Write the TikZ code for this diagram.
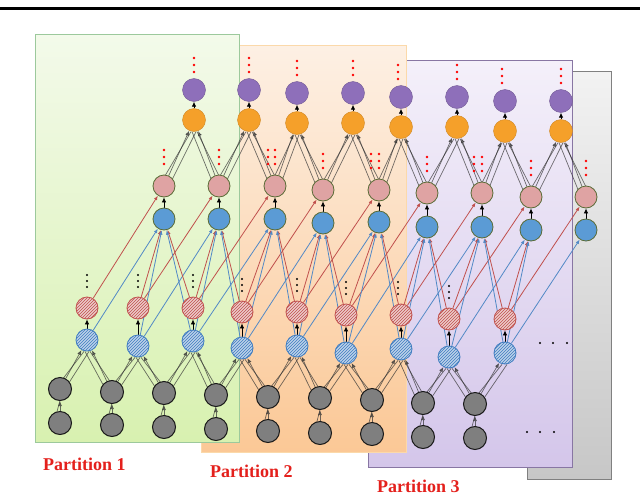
\documentclass[tikz,border=0pt]{standalone}
\usepackage{fontspec}
\newfontfamily\labfont{Liberation Serif}
\usetikzlibrary{arrows.meta, patterns, positioning}
\definecolor{purpc}{HTML}{8E6FBA}
\definecolor{orngc}{HTML}{F5A02A}
\definecolor{pinkc}{HTML}{DFA3A3}
\definecolor{bluc}{HTML}{5B9BD5}
\definecolor{olivec}{HTML}{5A6B36}
\definecolor{hredc}{HTML}{C0504D}
\definecolor{hbluc}{HTML}{3F7CC0}
\definecolor{gryc}{HTML}{7F7F7F}
\definecolor{labred}{RGB}{228,32,28}
\pgfdeclarelayer{back}
\pgfdeclarelayer{edges}
\pgfsetlayers{back,edges,main}

\begin{document}
\begin{tikzpicture}[x=1pt,y=-1pt,
  panel/.style={draw=#1,line width=.6pt,anchor=north west,inner sep=0pt},
  purp/.style={circle,minimum size=23pt,inner sep=0pt,fill=purpc,draw=purpc!80!black,thin},
  orng/.style={circle,minimum size=23pt,inner sep=0pt,fill=orngc,draw=orngc!85!black,thin},
  pink/.style={circle,minimum size=22pt,inner sep=0pt,fill=pinkc,draw=olivec,line width=.8pt},
  blu/.style={circle,minimum size=22pt,inner sep=0pt,fill=bluc,draw=olivec,line width=.8pt},
  hred/.style={circle,minimum size=22pt,inner sep=0pt,preaction={fill=hredc!30},pattern=north east lines,pattern color=hredc,draw=hredc,line width=.8pt},
  hblu/.style={circle,minimum size=22pt,inner sep=0pt,preaction={fill=hbluc!35},pattern=north east lines,pattern color=hbluc,draw=hbluc,line width=.8pt},
  gry/.style={circle,minimum size=23pt,inner sep=0pt,fill=gryc,draw=black!90,line width=1pt},
  arrow/.style={-{Latex[length=5pt,width=4.5pt]},black,line width=.8pt},
  bund/.style={draw=black!80,opacity=.7,line width=.7pt},
  tip/.style={-{Latex[length=5pt,width=4pt]}},
  redln/.style={-{Latex[length=4.5pt,width=3.5pt]},draw=hredc,line width=.8pt},
  bluln/.style={-{Latex[length=4.5pt,width=3.5pt]},draw=hbluc!90,line width=.8pt},
  lab/.style={font=\labfont\bfseries\fontsize{18}{20}\selectfont,text=labred,inner sep=0pt,anchor=base west}
]
\begin{pgfonlayer}{back}
  \useasboundingbox[fill=white] (0,0) rectangle (640,496);
  \draw[line width=3pt] (0,8) -- (640,8);
  \node[panel=black!50,top color=black!5,bottom color=black!22,minimum width=84pt,minimum height=408pt] (part4) at (527,71) {};
  \node[panel=purpc!60!gray,top color={rgb,255:red,244;green,240;blue,250},bottom color={rgb,255:red,212;green,198;blue,234},minimum width=204pt,minimum height=407pt] (part3) at (368,60) {};
  \node[panel=orngc!40!white,top color={rgb,255:red,253;green,240;blue,228},bottom color={rgb,255:red,251;green,200;blue,150},minimum width=205pt,minimum height=407pt] (part2) at (201,45) {};
  \node[panel=green!30!gray!60,top color={rgb,255:red,243;green,250;blue,234},bottom color={rgb,255:red,216;green,241;blue,176},minimum width=204pt,minimum height=408pt] (part1) at (35,34) {};
\end{pgfonlayer}

% nodes, from top to bottom
\foreach \x/\y [count=\i] in {194/90,249/90,297/93,353/93,401/97,457/97,505/101,561/101}
  \node[purp] (u\i) at (\x,\y) {};
\foreach \x/\y [count=\i] in {194/120,249/120,297/123,353/123,401/127,457/127,505/131,561/131}
  \node[orng] (o\i) at (\x,\y) {};
\foreach \x/\y [count=\i] in {164/186,219/186,275/186,323/190,379/190,427/193,482/193,531/197,586/197}
  \node[pink] (p\i) at (\x,\y) {};
\foreach \x/\y [count=\i] in {164/219,219/219,275/219,323/223,379/222,427/227,482/227,531/230,586/230}
  \node[blu] (b\i) at (\x,\y) {};
\foreach \x/\y [count=\i] in {87/308,138/308,193/308,242/312,297/312,346/315,401/315,449/319,505/319}
  \node[hred] (r\i) at (\x,\y) {};
\foreach \x/\y [count=\i] in {87/340,138/346,193/341,242/348,297/346,346/353,401/349,449/357,505/353}
  \node[hblu] (h\i) at (\x,\y) {};
\foreach \x/\y [count=\i] in {60/389,112/392,164/393,216/395,268/397,320/398,372/400,423/403,475/404}
  \node[gry] (g\i) at (\x,\y) {};
\foreach \x/\y [count=\i] in {60/423,112/425,164/427,216/429,268/431,320/433,372/434,423/437,475/438}
  \node[gry] (k\i) at (\x,\y) {};

% dots
\foreach \x/\y in {194/90,249/90,297/93,353/93,398/97,457/97,502/101,561/101}
  \foreach \d in {-32,-25,-18} \fill[red] (\x,\y+\d) circle (1.3);
\foreach \x/\y in {164/186,219/186,268/186,275/186,323/190,371/190,379/190,427/193,474/193,482/193,531/197,586/197}
  \foreach \d in {-36,-29,-22} \fill[red] (\x,\y+\d) circle (1.3);
\foreach \x/\y in {87/308,138/308,193/308,242/312,297/312,346/315,398/315,449/319}
  \foreach \d in {-33,-27,-21} \fill[black] (\x,\y+\d) circle (1.2);
\foreach \x in {540,553,567} \fill[black] (\x,343) circle (1.2);
\foreach \x in {527,540,554} \fill[black] (\x,432) circle (1.2);

\begin{pgfonlayer}{edges}
  \foreach \i in {1,...,8} \draw[arrow] (o\i) -- (u\i);
  \foreach \i in {1,...,9} {\draw[arrow] (b\i) -- (p\i); \draw[arrow] (h\i) -- (r\i);}
  % pink to orange
  \foreach \i [evaluate=\i as \n using int(\i+1)] in {1,...,8} {
    \draw[bund] ([xshift=-5pt]p\i.center) -- ([xshift=-3pt]o\i.south) ([xshift=5pt]p\i.center) -- ([xshift=2pt]o\i.south);
    \draw[bund,tip] (p\i) -- (o\i);
    \draw[bund] ([xshift=-5pt]p\n.center) -- ([xshift=-2pt]o\i.south) ([xshift=5pt]p\n.center) -- ([xshift=3pt]o\i.south);
    \draw[bund,tip] (p\n) -- (o\i);
  }
  % gray to hatched blue
  \foreach \i in {1,...,9} {
    \draw[bund] ([xshift=-5pt]g\i.center) -- ([xshift=-3pt]h\i.south) ([xshift=5pt]g\i.center) -- ([xshift=2pt]h\i.south);
    \draw[bund,tip] (g\i) -- (h\i);
    \draw[bund,tip] (k\i) -- (g\i);
    \draw[bund] ([xshift=-6pt]k\i.center) -- ([xshift=3pt]g\i.center);
  }
  \foreach \i [evaluate=\i as \j using int(\i-1)] in {2,...,9} {
    \draw[bund] ([xshift=-5pt]g\i.center) -- ([xshift=-2pt]h\j.south) ([xshift=5pt]g\i.center) -- ([xshift=3pt]h\j.south);
    \draw[bund,tip] (g\i) -- (h\j);
  }
  % long red and blue lines
  \foreach \j in {1,...,9} {\draw[redln] (r\j) -- (p\j); \draw[bluln] (h\j) -- (b\j);}
  \foreach \j [evaluate=\j as \a using int(\j+1)] in {1,...,8} {\draw[redln] (r\a) -- (b\j); \draw[bluln] (h\a) -- (b\j);}
  \foreach \j [evaluate=\j as \a using int(\j+2)] in {1,...,7} {\draw[redln] (r\a) -- (b\j); \draw[bluln] (h\a) -- (b\j);}
\end{pgfonlayer}

\node[lab] (lab1) at (43,470) {Partition 1};
\node[lab] (lab2) at (210,477) {Partition 2};
\node[lab] (lab3) at (377,492) {Partition 3};
\end{tikzpicture}
\end{document}
